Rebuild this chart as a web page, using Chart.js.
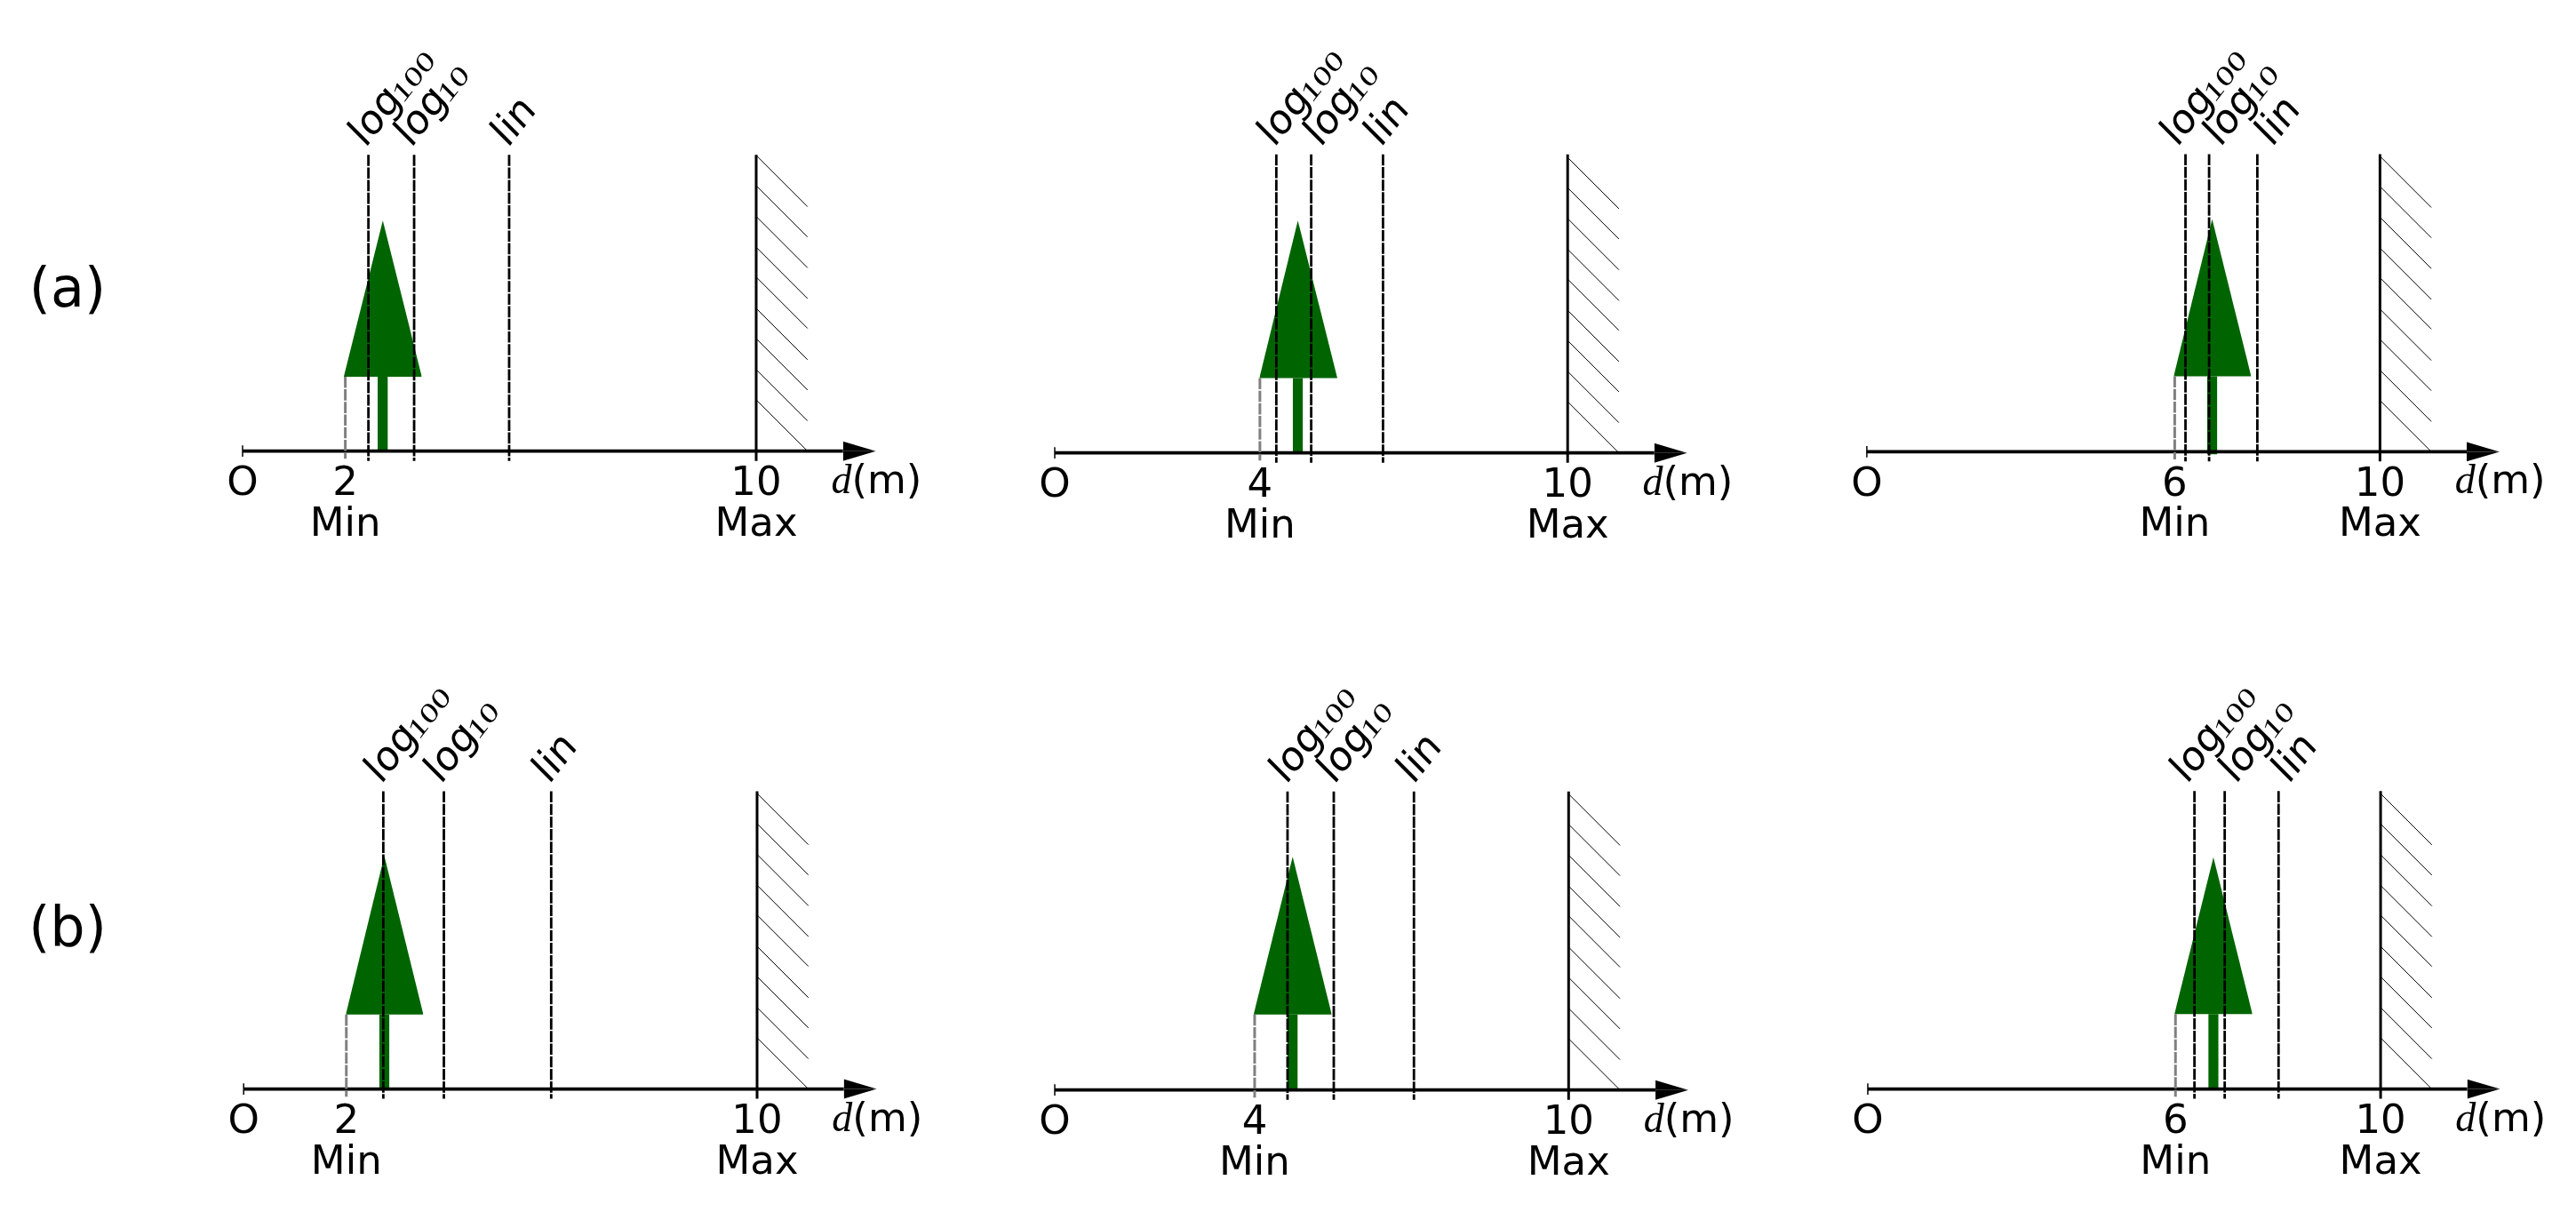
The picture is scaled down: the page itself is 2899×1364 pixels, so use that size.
<!DOCTYPE html>
<html>
<head>
<meta charset="utf-8">
<script src="https://cdn.jsdelivr.net/npm/chart.js@4/dist/chart.umd.js"></script>
<style>
html,body{margin:0;padding:0;background:#fff;overflow:hidden}
#page{position:relative;width:2899px;height:1364px;background:#fff}
canvas{position:absolute;display:block}
</style>
</head>
<body>
<div id="page"></div>
<script>
// ---------- values (metres) ----------
const rowNames   = ['(a)', '(b)'];
const minLabels  = ['2', '4', '6', '2', '4', '6'];
const minValues  = [2.0, 4.0, 6.0, 2.0, 3.89, 6.0];
const log100Vals = [2.45, 4.32, 6.21, 2.72, 4.53, 6.37];
const log10Vals  = [3.34, 5.00, 6.67, 3.90, 5.43, 6.96];
const linVals    = [5.19, 6.40, 7.61, 5.99, 6.99, 8.01];
const treeLeft   = [1.97, 3.99, 5.98, 1.99, 3.87, 5.98];
const treeTip    = [2.73, 4.74, 6.73, 2.74, 4.63, 6.74];
const treeRight  = [3.49, 5.51, 7.49, 3.50, 5.39, 7.50];
const treeBase   = [1.45, 1.46, 1.47, 1.45, 1.47, 1.46];
const treeApex   = [4.49, 4.53, 4.53, 4.54, 4.54, 4.52];
const trunkFoot  = [0, 0, -0.05, 0, 0, 0];
const wallTop    = [5.77, 5.82, 5.80, 5.80, 5.81, 5.81];
const hatchTops  = [5.76, 5.17, 4.57, 3.97, 3.39, 2.78, 2.19, 1.59, 1.0];
const maxValue   = 10;
const maxLabel   = '10';
const originLabel = 'O';
const trunkHalf  = 0.1;
const hatchRun   = 1.0;
const lineFoot   = -0.19;
const greyFoot   = -0.15;
const axisEnd    = 11.69;
const arrowTip   = 12.33;
const arrowHalf  = 0.19;
const tickHalf   = 0.11;
const dLabelAt   = 11.46;

// ---------- page layout (pixels) ----------
const zeroPx  = [273, 1187, 2100.9, 274.2, 1187, 2102];
const tenPx   = [851, 1764.2, 2678.4, 852, 1765.3, 2679.1];
const axisPx  = [507.7, 509.7, 508.4, 1225.6, 1226.7, 1225.6];
const colEdges = [0, 1050, 2000, 2899];
const rowEdges = [0, 682, 1364];
const rowLabelPos = [[76, 329], [76, 1048]];
// horizontal nudges of the rotated labels [log100, log10, lin]
const labelNudge = [[0, 0, 2], [1, 14, 1], [-6, 16, 20], [1, 0, 1], [2, 4, 3], [-5, 16, 15]];

const GREEN = '#006400';
const SANS = '"DejaVu Sans"';

function seg(pts, color, width, dash, extra) {
  return Object.assign({
    data: pts.map(p => ({x: p[0], y: p[1]})),
    borderColor: color, borderWidth: width, borderDash: dash || [],
    pointRadius: 0, tension: 0, fill: false, borderCapStyle: 'butt'
  }, extra || {});
}
function solid(pts, value) {
  return seg(pts, GREEN, 0, null, {backgroundColor: GREEN, fill: {value}});
}
function blackFill(pts, value) {
  return seg(pts, '#000', 0, null, {backgroundColor: '#000', fill: {value}});
}

const BASE_ANGLE = 52 * Math.PI / 180;
const STEM_ANGLE = 45 * Math.PI / 180;

const topLabels = {
  id: 'topLabels',
  afterDatasetsDraw(chart, _a, o) {
    const ctx = chart.ctx, sx = chart.scales.x, sy = chart.scales.y;
    const ty = sy.getPixelForValue(o.top);
    ctx.save();
    ctx.fillStyle = '#000';
    ctx.textBaseline = 'alphabetic';
    ctx.textAlign = 'left';
    o.marks.forEach(m => {
      const px = sx.getPixelForValue(m.value) + m.nudge;
      ctx.save();
      ctx.translate(px - 3.4, ty - 7);
      // baseline runs at about 52 degrees while the stems lean at 45 degrees
      ctx.transform(Math.cos(BASE_ANGLE), -Math.sin(BASE_ANGLE), Math.cos(STEM_ANGLE), Math.sin(STEM_ANGLE), 0, 0);
      ctx.font = '45px ' + SANS;
      ctx.fillText(m.text, 0, 0);
      if (m.sub) {
        ctx.translate(65.3, 2.5);
        ctx.scale(1.38, 1);
        ctx.font = '30px "Liberation Serif"';
        ctx.fillText(m.sub, 0, 0);
      }
      ctx.restore();
    });
    // d(m) unit label
    const ux = sx.getPixelForValue(dLabelAt), uy = sy.getPixelForValue(0) + 47;
    ctx.font = 'italic 46px "Liberation Serif"';
    ctx.fillText('d', ux, uy);
    ctx.font = '45px ' + SANS;
    ctx.fillText('(m)', ux + 23, uy);
    // row label
    if (o.rowLabel) {
      ctx.font = '62px ' + SANS;
      ctx.textAlign = 'center';
      ctx.textBaseline = 'middle';
      ctx.fillText(o.rowLabel.text, o.rowLabel.x, o.rowLabel.y);
    }
    ctx.restore();
  }
};

const page = document.getElementById('page');
Chart.defaults.animation = false;

minValues.forEach((minV, i) => {
  const col = i % 3, row = Math.floor(i / 3);
  const left = colEdges[col], right = colEdges[col + 1];
  const top = rowEdges[row], bottom = rowEdges[row + 1];
  const W = right - left, H = bottom - top;
  const unit = (tenPx[i] - zeroPx[i]) / maxValue;
  const xMin = (left - zeroPx[i]) / unit;
  const xMax = (right - zeroPx[i]) / unit;
  const yMin = -0.2;
  const yMax = (axisPx[i] - top) / unit;
  const areaH = (yMax - yMin) * unit;

  const c = document.createElement('canvas');
  c.width = W; c.height = H;
  c.style.left = left + 'px'; c.style.top = top + 'px';
  c.style.width = W + 'px'; c.style.height = H + 'px';
  page.appendChild(c);

  const tickLabels = new Map([
    [0, originLabel],
    [minV, [minLabels[i], 'Min']],
    [maxValue, [maxLabel, 'Max']]
  ]);
  const t = wallTop[i];

  const datasets = [];
  // dashed estimator lines (on top)
  [log100Vals[i], log10Vals[i], linVals[i]].forEach(v =>
    datasets.push(seg([[v, t], [v, lineFoot]], '#000', 2.8, [12.6, 1.6])));
  datasets.push(seg([[minV, treeBase[i]], [minV, greyFoot]], '#808080', 3, [12.6, 1.6]));
  // axis + arrow + wall
  datasets.push(seg([[0, 0], [axisEnd, 0]], '#000', 3.7));
  datasets.push(seg([[0, -tickHalf], [0, tickHalf]], '#000', 1.5));
  datasets.push(blackFill([[axisEnd, arrowHalf], [arrowTip, 0]], 0));
  datasets.push(blackFill([[axisEnd, -arrowHalf], [arrowTip, 0]], 0));
  datasets.push(seg([[maxValue, t], [maxValue, lineFoot]], '#000', 3));
  hatchTops.forEach(h =>
    datasets.push(seg([[maxValue, h], [maxValue + hatchRun, h - hatchRun]], '#000', 1)));
  // tree
  datasets.push(solid([[treeLeft[i], treeBase[i]], [treeTip[i], treeApex[i]], [treeRight[i], treeBase[i]]], treeBase[i]));
  datasets.push(solid([[treeTip[i] - trunkHalf, treeBase[i]], [treeTip[i] + trunkHalf, treeBase[i]]], trunkFoot[i]));

  new Chart(c, {
    type: 'line',
    data: {datasets},
    plugins: [topLabels],
    options: {
      responsive: false,
      devicePixelRatio: 1,
      animation: false,
      layout: {padding: 0},
      plugins: {
        legend: {display: false},
        tooltip: {enabled: false},
        topLabels: {
          top: t,
          marks: [
            {value: log100Vals[i], text: 'log', sub: '100', nudge: labelNudge[i][0]},
            {value: log10Vals[i], text: 'log', sub: '10', nudge: labelNudge[i][1]},
            {value: linVals[i], text: 'lin', nudge: labelNudge[i][2]}
          ],
          rowLabel: col === 0 ? {text: rowNames[row], x: rowLabelPos[row][0], y: rowLabelPos[row][1] - top} : null
        }
      },
      scales: {
        x: {
          type: 'linear',
          min: xMin, max: xMax,
          grid: {display: false},
          border: {display: false},
          afterBuildTicks: s => { s.ticks = [...tickLabels.keys()].map(v => ({value: v})); },
          afterFit: s => { s.height = H - areaH; },
          ticks: {
            autoSkip: false, maxRotation: 0, minRotation: 0,
            color: '#000', padding: -5,
            font: {family: 'DejaVu Sans', size: 45, lineHeight: 1.02},
            callback: v => tickLabels.get(v)
          }
        },
        y: {type: 'linear', display: false, min: yMin, max: yMax}
      }
    }
  });
});
</script>
</body>
</html>
